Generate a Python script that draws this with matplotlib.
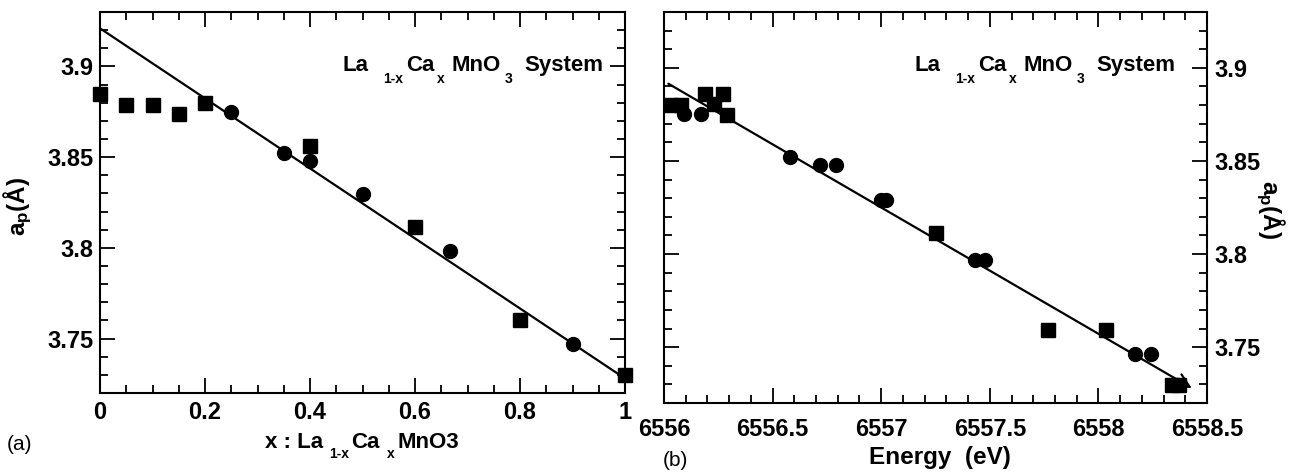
import matplotlib
matplotlib.use("Agg")
import matplotlib.pyplot as plt
from matplotlib.ticker import MultipleLocator, FormatStrFormatter

plt.rcParams['font.family'] = ['Liberation Sans', 'DejaVu Sans']
plt.rcParams['font.weight'] = 'bold'
plt.rcParams['mathtext.fontset'] = 'custom'
plt.rcParams['mathtext.rm'] = 'Liberation Sans:bold'
plt.rcParams['mathtext.it'] = 'Liberation Sans:bold'
plt.rcParams['mathtext.bf'] = 'Liberation Sans:bold'
plt.rcParams['mathtext.default'] = 'rm'

# ---- panel (a): lattice parameter vs Ca content ----
a_sq_x = [0.0, 0.05, 0.10, 0.15, 0.20, 0.40, 0.60, 0.80, 1.00]
a_sq_y = [3.885, 3.879, 3.879, 3.874, 3.880, 3.856, 3.8115, 3.760, 3.730]
a_ci_x = [0.25, 0.35, 0.40, 0.50, 0.667, 0.90]
a_ci_y = [3.875, 3.8525, 3.848, 3.8295, 3.798, 3.747]
a_fit_x = [0.0, 1.0]
a_fit_y = [3.921, 3.728]

# ---- panel (b): lattice parameter vs edge energy ----
b_sq_x = [6556.03, 6556.08, 6556.19, 6556.23, 6556.27, 6556.29,
          6557.25, 6557.77, 6558.035, 6558.34, 6558.37]
b_sq_y = [3.880, 3.880, 3.886, 3.8805, 3.886, 3.8745,
          3.8115, 3.759, 3.759, 3.7295, 3.7295]
b_ci_x = [6556.09, 6556.17, 6556.58, 6556.72, 6556.79, 6557.00, 6557.02,
          6557.43, 6557.48, 6558.17, 6558.24]
b_ci_y = [3.875, 3.875, 3.852, 3.848, 3.848, 3.829, 3.829,
          3.797, 3.797, 3.7465, 3.7465]
b_fit_x = [6556.02, 6558.43]
b_fit_y = [3.8915, 3.7280]

W, H = 1305, 475
fig = plt.figure(figsize=(W / 100, H / 100), dpi=100)
renderer = fig.canvas.get_renderer()

def rect(x0, y0, x1, y1):
    return [x0 / W, 1 - y1 / H, (x1 - x0) / W, (y1 - y0) / H]

axA = fig.add_axes(rect(100, 12, 625, 393))
axB = fig.add_axes(rect(664, 12, 1207, 403))

ylims = (3.72, 3.93)
ms_sq = 9.5
ms_ci = 10
FS = 17.5
FS_CHEM = 16
FS_SUB = 10

def style(ax, xmaj, xmin, xpad):
    for s in ax.spines.values():
        s.set_linewidth(1.5)
    ax.xaxis.set_major_locator(MultipleLocator(xmaj))
    ax.xaxis.set_minor_locator(MultipleLocator(xmin))
    ax.yaxis.set_major_locator(MultipleLocator(0.05))
    ax.yaxis.set_minor_locator(MultipleLocator(0.01))
    ax.xaxis.set_major_formatter(FormatStrFormatter('%g'))
    ax.yaxis.set_major_formatter(FormatStrFormatter('%g'))
    ax.tick_params(which='both', direction='in', top=True, right=True,
                   labelsize=17, width=1.3)
    ax.tick_params(which='major', length=11)
    ax.tick_params(which='minor', length=5.5)
    ax.tick_params(axis='x', pad=xpad)
    ax.tick_params(axis='y', pad=5)
    ax.set_ylim(*ylims)

def chem_text(x0, base, pieces, sub_drop=12):
    """pieces: (text, is_sub, gap_px_before); pixel coords from top-left."""
    x = x0
    for txt, is_sub, gap in pieces:
        x += gap
        y = base + (sub_drop if is_sub else 0)
        t = fig.text(x / W, 1 - y / H, txt, ha='left', va='baseline',
                     fontsize=FS_SUB if is_sub else FS_CHEM, fontweight='bold')
        bb = t.get_window_extent(renderer)
        x = bb.x1

system_pieces = [('La', False, 0), ('1-x', True, 14), ('Ca', False, 3),
                 ('x', True, 3), ('MnO', False, 6), ('3', True, 4),
                 ('System', False, 12)]
xlabel_pieces = [('x : La', False, 0), ('1-x', True, 6), ('Ca', False, 2),
                 ('x', True, 7), ('MnO3', False, 3)]

# panel (a)
axA.plot(a_fit_x, a_fit_y, color='k', lw=1.6, zorder=2)
axA.plot(a_sq_x, a_sq_y, 's', color='k', ms=ms_sq, zorder=3, clip_on=False)
axA.plot(a_ci_x, a_ci_y, 'o', color='k', ms=ms_ci, zorder=3, clip_on=False)
axA.set_xlim(0, 1)
style(axA, 0.2, 0.05, 6)
chem_text(343, 71, system_pieces)
chem_text(265, 448, xlabel_pieces, sub_drop=10)

# panel (b)
axB.annotate('', xy=(b_fit_x[1], b_fit_y[1]), xytext=(b_fit_x[0], b_fit_y[0]),
             arrowprops=dict(arrowstyle='->', lw=1.6, color='k',
                             mutation_scale=24, shrinkA=0, shrinkB=0),
             zorder=4)
axB.plot(b_sq_x, b_sq_y, 's', color='k', ms=ms_sq, zorder=3, clip_on=False)
axB.plot(b_ci_x, b_ci_y, 'o', color='k', ms=ms_ci, zorder=3, clip_on=False)
axB.set_xlim(6556, 6558.5)
style(axB, 0.5, 0.1, 11)
axB.tick_params(axis='y', labelleft=False, labelright=True)
chem_text(915, 71, system_pieces)
fig.text(940 / W, 1 - 464 / H, 'Energy  (eV)', ha='center', va='baseline',
         fontsize=FS, fontweight='bold')

# y labels
fig.text(18 / W, 1 - 206 / H, r'a$_{p}$(Å)', rotation=90,
         ha='center', va='center', fontsize=FS)
fig.text(1270 / W, 1 - 210 / H, r'a$_{p}$(Å)', rotation=270,
         ha='center', va='center', fontsize=FS)

# panel tags
fig.text(7 / W, 1 - 445 / H, '(a)', ha='left', va='center', fontsize=15,
         fontweight='normal')
fig.text(663 / W, 1 - 460 / H, '(b)', ha='left', va='center', fontsize=15,
         fontweight='normal')

fig.savefig('out.png', dpi=100)
